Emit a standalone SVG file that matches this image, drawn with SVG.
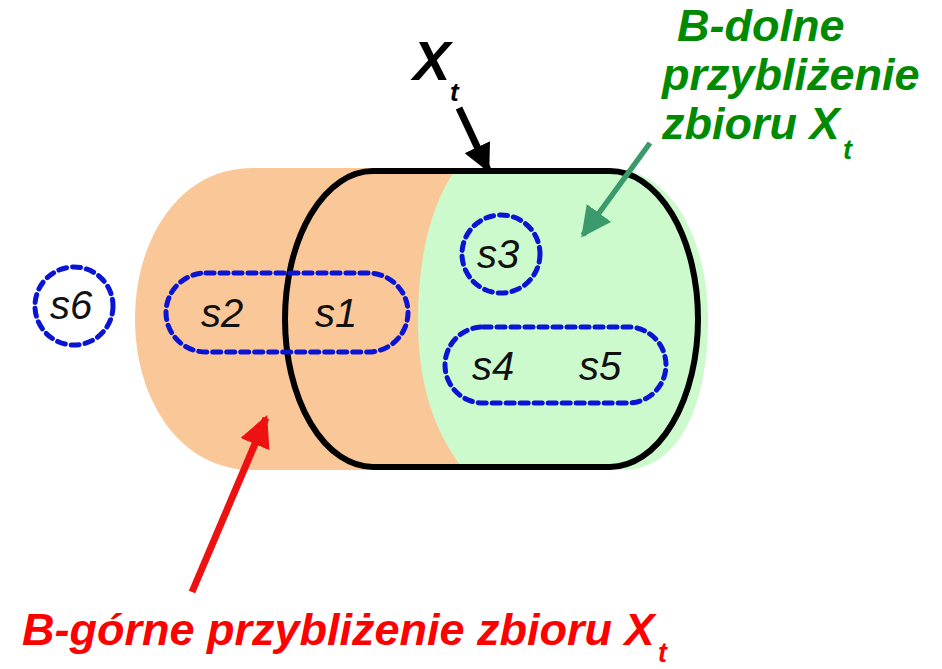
<svg xmlns="http://www.w3.org/2000/svg" width="942" height="669" viewBox="0 0 942 669">
<style>
.set{fill:none;stroke:#0a14d4;stroke-width:5;stroke-dasharray:8 6;stroke-linecap:round}
.lbl{font-family:"Liberation Sans",Arial,sans-serif;font-style:italic;font-size:40px;fill:#111}
.big{font-family:"Liberation Sans",Arial,sans-serif;font-style:italic;font-weight:bold}
</style>
<defs>
<marker id="hk" viewBox="0 0 10 10" refX="9" refY="5" markerWidth="4" markerHeight="4" orient="auto" markerUnits="strokeWidth"><path d="M0,0 L10,5 L0,10 Z" fill="#000"/></marker>
<marker id="hg" viewBox="0 0 10 10" refX="9" refY="5" markerWidth="5.5" markerHeight="5.5" orient="auto" markerUnits="strokeWidth"><path d="M0,0 L10,5 L0,10 Z" fill="#3a9a6c"/></marker>
<marker id="hr" viewBox="0 0 10 10" refX="9" refY="5" markerWidth="4.5" markerHeight="4.5" orient="auto" markerUnits="strokeWidth"><path d="M0,0 L10,5 L0,10 Z" fill="#ee1111"/></marker>
</defs>
<rect width="942" height="669" fill="#fff"/>
<g id="upper">
<path d="M252,168 L480,168 L480,470 L252,470 C180,470 135,400 135,319 C135,238 180,168 252,168 Z" fill="#fac898"/>
</g>
<g id="lower">
<path d="M456,169 L612,169 C672,169 708,240 708,320 C708,400 682,470 622,470 L464,470 C432,430 418,380 418,320 C418,260 430,205 456,169 Z" fill="#ccfacc"/>
</g>
<g id="Xt">
<rect x="285" y="171" width="413" height="296" rx="88" ry="148" fill="none" stroke="#000" stroke-width="6"/>
</g>
<g id="s12">
<rect x="166" y="273" width="242" height="79" rx="40" class="set"/>
<text x="222" y="327" class="lbl" text-anchor="middle">s2</text>
<text x="336" y="327" class="lbl" text-anchor="middle">s1</text>
</g>
<g id="s3">
<circle cx="501" cy="254" r="39" class="set"/>
<text x="498" y="268" class="lbl" text-anchor="middle">s3</text>
</g>
<g id="s45">
<rect x="445" y="327" width="221" height="76" rx="38" class="set"/>
<text x="493" y="380" class="lbl" text-anchor="middle">s4</text>
<text x="600" y="380" class="lbl" text-anchor="middle">s5</text>
</g>
<g id="s6">
<circle cx="74" cy="306" r="39" class="set"/>
<text x="71" y="319" class="lbl" text-anchor="middle">s6</text>
</g>
<g id="connectors">
<line x1="459" y1="108" x2="488" y2="170" stroke="#000" stroke-width="7" marker-end="url(#hk)"/>
<line x1="650" y1="143" x2="583" y2="235" stroke="#3a9a6c" stroke-width="5.5" marker-end="url(#hg)"/>
<line x1="192" y1="592" x2="266" y2="418" stroke="#ee1111" stroke-width="7" marker-end="url(#hr)"/>
</g>
<g id="label-Xt">
<text x="413" y="80" class="big" font-size="56" fill="#000">X</text>
<text x="450" y="101" class="big" font-size="26" fill="#000">t</text>
</g>
<g id="label-lower" fill="#008a00">
<text x="677" y="41" class="big" font-size="45">B-dolne</text>
<text x="662" y="90" class="big" font-size="45">przybliżenie</text>
<text x="662" y="139" class="big" font-size="45">zbioru X</text>
<text x="843" y="159" class="big" font-size="27">t</text>
</g>
<g id="label-upper" fill="#ff0000">
<text x="22" y="645" class="big" font-size="45">B-górne przybliżenie zbioru X</text>
<text x="658" y="662" class="big" font-size="27">t</text>
</g>
</svg>
